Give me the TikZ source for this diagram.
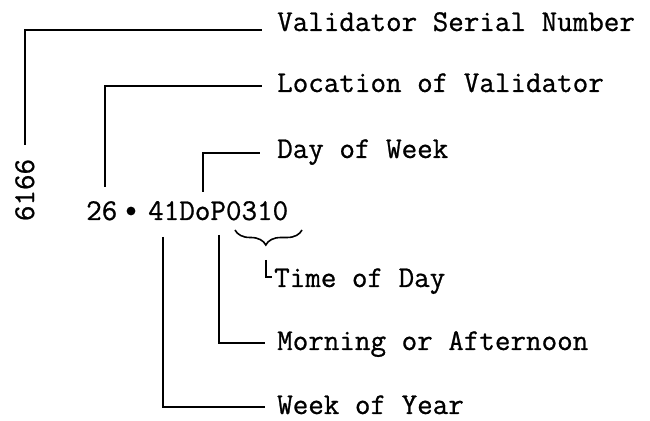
\documentclass[tikz,border=0pt]{standalone}
\usepackage{fontspec}
\newfontfamily\typewriter[FakeBold=0.8]{Latin Modern Mono}
\usetikzlibrary{decorations.pathreplacing}
\begin{document}
\begin{tikzpicture}[x=1pt,y=1pt,
  lead/.style={line width=1.6pt,line cap=butt,line join=miter},
  tw/.style={inner sep=0pt,font=\typewriter\fontsize{30.2}{36}\selectfont},
  label/.style={tw,anchor=base west}]
\useasboundingbox (0,0) rectangle (650,420);

% the punched code
\node[tw,anchor=base west] (site) at (86,200) {26};
\fill (131,209) circle (4.4) coordinate (dot);
\node[tw,anchor=base west] (code) at (148,200) {41DoP0310};
\node[tw,anchor=base,rotate=90] (serial) at (34,230) {6166};

% field names
\node[label] (vsn)  at (277,389) {Validator Serial Number};
\node[label] (loc)  at (277,328) {Location of Validator};
\node[label] (dow)  at (277,262) {Day of Week};
\node[label] (tod)  at (274,133) {Time of Day};
\node[label] (ampm) at (277,70)  {Morning or Afternoon};
\node[label] (woy)  at (277,6)   {Week of Year};

% leader end points
\coordinate (serialtop) at (25,275);
\coordinate (vsnend)    at (262,390);
\coordinate (sitetop)   at (105,233);
\coordinate (locend)    at (262,334);
\coordinate (dowfoot)   at (203,228);
\coordinate (dowend)    at (260,267);
\coordinate (pfoot)     at (219,185);
\coordinate (ampmend)   at (265,77);
\coordinate (wkfoot)    at (163,183);
\coordinate (woyend)    at (265,13);

\draw[lead] (serialtop) |- (vsnend);
\draw[lead] (sitetop)   |- (locend);
\draw[lead] (dowfoot)   |- (dowend);
\draw[lead] (pfoot)     |- (ampmend);
\draw[lead] (wkfoot)    |- (woyend);

% brace under the time digits
\coordinate (brl) at (235,190);
\coordinate (brr) at (302,190);
\draw[line width=1.6pt,decorate,decoration={brace,mirror,amplitude=15pt,aspect=0.46}]
  (brl) -- (brr);

% small corner mark before the time label
\coordinate (tickt) at (266,160);
\coordinate (tickr) at (272,143);
\draw[line width=1.2pt] (tickt) |- (tickr);
\end{tikzpicture}
\end{document}
